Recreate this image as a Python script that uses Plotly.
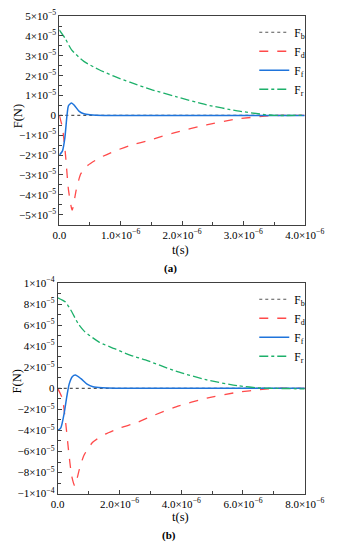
import plotly.graph_objects as go

# ---------------- data : panel (a) ----------------
t_a_Fb = [0, 4.0e-6]
Fb_a = [0, 0]

t_a_Fd = [0, 0.05e-6, 0.1e-6, 0.15e-6, 0.21e-6, 0.275e-6, 0.35e-6, 0.45e-6, 0.65e-6, 0.9e-6,
          1.15e-6, 1.5e-6, 1.9e-6, 2.4e-6, 2.9e-6, 3.35e-6, 3.6e-6, 4.0e-6]
Fd_a = [0, -0.6e-5, -1.96e-5, -3.76e-5, -4.77e-5, -3.76e-5, -2.94e-5, -2.55e-5, -2.15e-5, -1.8e-5,
        -1.52e-5, -1.22e-5, -0.85e-5, -0.48e-5, -0.18e-5, -0.04e-5, 0, 0]

t_a_Ff = [0, 0.05e-6, 0.09e-6, 0.125e-6, 0.15e-6, 0.2e-6, 0.25e-6, 0.325e-6, 0.4e-6, 0.5e-6,
          0.6e-6, 0.8e-6, 1.5e-6, 4.0e-6]
Ff_a = [-2.0e-5, -1.8e-5, -1.14e-5, 0, 0.49e-5, 0.63e-5, 0.49e-5, 0.2e-5, 0.08e-5, 0.03e-5,
        0.01e-5, 0, 0, 0]

t_a_Fr = [0, 0.1e-6, 0.2e-6, 0.4e-6, 0.65e-6, 0.9e-6, 1.15e-6, 1.5e-6, 1.9e-6, 2.4e-6, 2.9e-6,
          3.35e-6, 3.5e-6, 4.0e-6]
Fr_a = [4.3e-5, 3.85e-5, 3.3e-5, 2.72e-5, 2.3e-5, 1.96e-5, 1.67e-5, 1.3e-5, 0.95e-5, 0.53e-5,
        0.23e-5, 0.04e-5, 0, 0]

# ---------------- data : panel (b) ----------------
t_b_Fb = [0, 8.0e-6]
Fb_b = [0, 0]

t_b_Fd = [0, 0.15e-6, 0.25e-6, 0.35e-6, 0.45e-6, 0.55e-6, 0.7e-6, 0.85e-6, 1.14e-6, 1.54e-6,
          2.04e-6, 2.54e-6, 3.04e-6, 3.83e-6, 4.83e-6, 5.83e-6, 6.62e-6, 7.0e-6, 8.0e-6]
Fd_b = [0, -0.98e-5, -3.1e-5, -5.9e-5, -8.3e-5, -9.26e-5, -7.7e-5, -6.35e-5, -5.1e-5, -4.35e-5,
        -3.74e-5, -3.28e-5, -2.65e-5, -1.75e-5, -0.92e-5, -0.37e-5, -0.1e-5, 0, 0]

t_b_Ff = [0, 0.1e-6, 0.2e-6, 0.3e-6, 0.37e-6, 0.47e-6, 0.57e-6, 0.75e-6, 0.95e-6, 1.14e-6,
          1.44e-6, 1.9e-6, 2.5e-6, 8.0e-6]
Ff_b = [-4.0e-5, -3.75e-5, -2.5e-5, -0.67e-5, 0.4e-5, 1.1e-5, 1.26e-5, 0.92e-5, 0.4e-5, 0.15e-5,
        0.06e-5, 0.02e-5, 0, 0]

t_b_Fr = [0, 0.25e-6, 0.45e-6, 0.65e-6, 0.85e-6, 1.34e-6, 1.84e-6, 2.34e-6, 2.84e-6, 3.3e-6,
          3.83e-6, 4.83e-6, 5.83e-6, 6.6e-6, 7.0e-6, 8.0e-6]
Fr_b = [8.6e-5, 8.2e-5, 7.3e-5, 6.2e-5, 5.46e-5, 4.39e-5, 3.77e-5, 3.16e-5, 2.7e-5, 2.2e-5,
        1.63e-5, 0.8e-5, 0.25e-5, 0.03e-5, 0, -0.05e-5]

series_names = ["F<sub>b</sub>", "F<sub>d</sub>", "F<sub>f</sub>", "F<sub>r</sub>"]

# ---------------- ticks ----------------
xa_ticks = [0, 1e-6, 2e-6, 3e-6, 4e-6]
xa_text = ["0.0", "1.0×10<sup>−6</sup>", "2.0×10<sup>−6</sup>", "3.0×10<sup>−6</sup>", "4.0×10<sup>−6</sup>"]
ya_ticks = [5e-5, 4e-5, 3e-5, 2e-5, 1e-5, 0, -1e-5, -2e-5, -3e-5, -4e-5, -5e-5]
ya_text = ["5×10<sup>−5</sup>", "4×10<sup>−5</sup>", "3×10<sup>−5</sup>", "2×10<sup>−5</sup>",
           "1×10<sup>−5</sup>", "0", "−1×10<sup>−5</sup>", "−2×10<sup>−5</sup>",
           "−3×10<sup>−5</sup>", "−4×10<sup>−5</sup>", "−5×10<sup>−5</sup>"]
xb_ticks = [0, 2e-6, 4e-6, 6e-6, 8e-6]
xb_text = ["0.0", "2.0×10<sup>−6</sup>", "4.0×10<sup>−6</sup>", "6.0×10<sup>−6</sup>", "8.0×10<sup>−6</sup>"]
yb_ticks = [1e-4, 8e-5, 6e-5, 4e-5, 2e-5, 0, -2e-5, -4e-5, -6e-5, -8e-5, -1e-4]
yb_text = ["1×10<sup>−4</sup>", "8×10<sup>−5</sup>", "6×10<sup>−5</sup>", "4×10<sup>−5</sup>",
           "2×10<sup>−5</sup>", "0", "−2×10<sup>−5</sup>", "−4×10<sup>−5</sup>",
           "−6×10<sup>−5</sup>", "−8×10<sup>−5</sup>", "−1×10<sup>−4</sup>"]

W, H = 349, 550
FONT = "Liberation Serif, serif"
styles = [dict(color="#555555", dash="dot", width=1.2),
          dict(color="#FF4A4A", dash="dash", width=1.3),
          dict(color="#1F74DB", dash="solid", width=1.5),
          dict(color="#1DB06A", dash="dashdot", width=1.3)]

fig = go.Figure()
panel_a = [(t_a_Fb, Fb_a), (t_a_Fd, Fd_a), (t_a_Ff, Ff_a), (t_a_Fr, Fr_a)]
panel_b = [(t_b_Fb, Fb_b), (t_b_Fd, Fd_b), (t_b_Ff, Ff_b), (t_b_Fr, Fr_b)]
for i, (t, f) in enumerate(panel_a):
    fig.add_trace(go.Scatter(x=t, y=f, mode="lines", name=series_names[i],
                             line=dict(shape="spline", smoothing=0.6, **styles[i]),
                             xaxis="x", yaxis="y", legend="legend"))
for i, (t, f) in enumerate(panel_b):
    fig.add_trace(go.Scatter(x=t, y=f, mode="lines", name=series_names[i],
                             line=dict(shape="spline", smoothing=0.6, **styles[i]),
                             xaxis="x2", yaxis="y2", legend="legend2"))

def px_x(p):
    return p / W

def px_y(p):
    return 1 - p / H

axis_common = dict(showline=True, linecolor="#404040", linewidth=1, mirror=True, ticks="inside",
                   ticklen=4, tickcolor="#404040", showgrid=False, zeroline=False,
                   tickfont=dict(family=FONT, size=11, color="black"), tickmode="array")

fig.update_layout(
    width=W, height=H, margin=dict(l=0, r=0, t=0, b=0),
    paper_bgcolor="white", plot_bgcolor="white",
    font=dict(family=FONT, color="black"),
    xaxis=dict(domain=[px_x(56.7), px_x(322.7)], range=[0, 4e-6], anchor="y",
               tickvals=xa_ticks, ticktext=xa_text,
               minor=dict(ticks="inside", ticklen=3, tickmode="linear", tick0=0, dtick=0.5e-6, tickcolor="#404040"),
               **axis_common),
    yaxis=dict(domain=[px_y(222.3), px_y(8.3)], range=[-5.5e-5, 5e-5], anchor="x",
               tickvals=ya_ticks, ticktext=ya_text,
               minor=dict(ticks="inside", ticklen=3, tickmode="linear", tick0=0, dtick=0.5e-5, tickcolor="#404040"),
               **axis_common),
    xaxis2=dict(domain=[px_x(55), px_x(322.7)], range=[0, 8e-6], anchor="y2",
                tickvals=xb_ticks, ticktext=xb_text,
                minor=dict(ticks="inside", ticklen=3, tickmode="linear", tick0=0, dtick=1e-6, tickcolor="#404040"),
                **axis_common),
    yaxis2=dict(domain=[px_y(498.3), px_y(282.3)], range=[-1e-4, 1e-4], anchor="x2",
                tickvals=yb_ticks, ticktext=yb_text,
                minor=dict(ticks="inside", ticklen=3, tickmode="linear", tick0=0, dtick=1e-5, tickcolor="#404040"),
                **axis_common),
    legend=dict(x=px_x(268), y=px_y(10), xanchor="left", yanchor="top", bgcolor="rgba(0,0,0,0)",
                font=dict(family=FONT, size=11.5), itemwidth=30, tracegroupgap=0),
    legend2=dict(x=px_x(268), y=px_y(284), xanchor="left", yanchor="top", bgcolor="rgba(0,0,0,0)",
                 font=dict(family=FONT, size=11.5), itemwidth=30, tracegroupgap=0),
    showlegend=True,
)

ann = [
    dict(text="F(N)", x=px_x(12), y=px_y(111), textangle=-90),
    dict(text="t(s)", x=px_x(188), y=px_y(248)),
    dict(text="<b>(a)</b>", x=px_x(177), y=px_y(267), size=11),
    dict(text="F(N)", x=px_x(11), y=px_y(383), textangle=-90),
    dict(text="t(s)", x=px_x(188), y=px_y(522)),
    dict(text="<b>(b)</b>", x=px_x(176), y=px_y(541), size=11),
]
for a in ann:
    fig.add_annotation(text=a["text"], x=a["x"], y=a["y"], xref="paper", yref="paper",
                       xanchor="center", yanchor="middle", showarrow=False,
                       textangle=a.get("textangle", 0),
                       font=dict(family=FONT, size=a.get("size", 12.5), color="black"))

fig.write_html(
    "out.html",
    config={"displayModeBar": False},
    default_width="349px",
    default_height="550px",
    post_script=("document.documentElement.style.margin='0';document.body.style.margin='0';"
                 "document.body.style.padding='0';document.documentElement.style.overflow='hidden';"
                 "document.body.style.overflow='hidden';"),
)
